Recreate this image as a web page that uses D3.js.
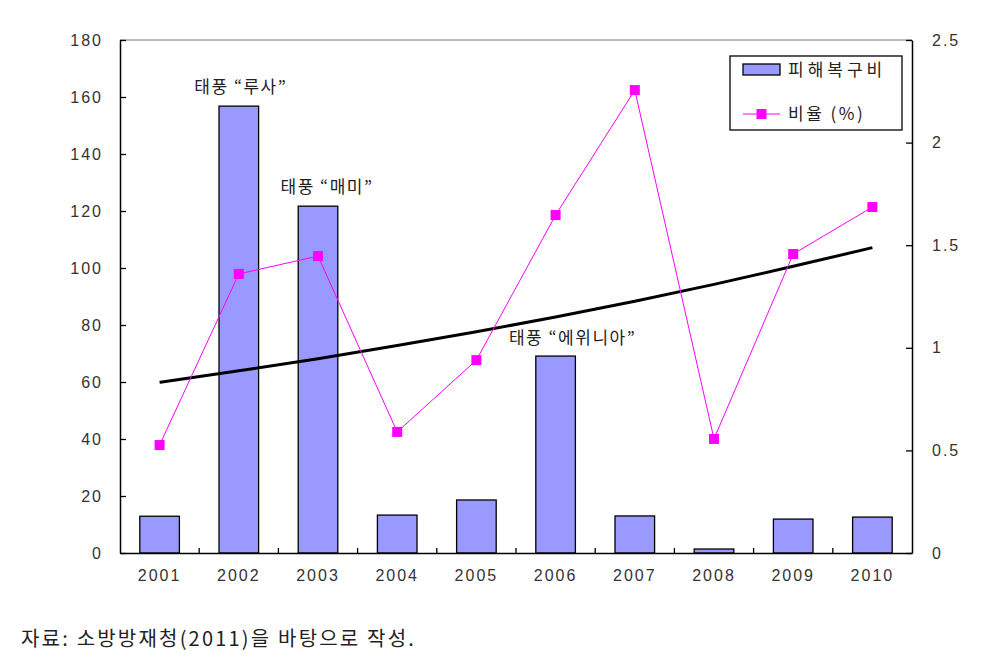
<!DOCTYPE html>
<html>
<head>
<meta charset="utf-8">
<script src="https://cdn.jsdelivr.net/npm/d3@7"></script>
<style>
  body { margin: 0; background: #fff; }
  text { font-family: "Noto Sans CJK KR", "DejaVu Sans", sans-serif; fill: #222; }
  .tick text { font-family: "Liberation Sans", Arial, sans-serif; font-size: 16px; fill: #333; letter-spacing: 2px; }
</style>
</head>
<body>
<div id="chart"></div>
<script>
// data
var years = ["2001", "2002", "2003", "2004", "2005", "2006", "2007", "2008", "2009", "2010"];
var cost = [12.9, 156.8, 121.7, 13.3, 18.6, 69.1, 13.0, 1.4, 11.9, 12.6];
var ratio = [0.526, 1.36, 1.447, 0.59, 0.94, 1.647, 2.256, 0.556, 1.457, 1.686];
// trend curve (right axis), read at each year
var trend = [0.832, 0.888, 0.947, 1.011, 1.078, 1.150, 1.227, 1.309, 1.397, 1.488];
var leftTicks = [0, 20, 40, 60, 80, 100, 120, 140, 160, 180];
var rightTicks = [0, 0.5, 1, 1.5, 2, 2.5];
var notes = [
    {year: "2002", label: "태풍 “루사”", dx: 2, dy: -13},
    {year: "2003", label: "태풍 “매미”", dx: 9, dy: -13},
    {year: "2006", label: "태풍 “에위니아”", dx: 17, dy: -12}
];

var margin = {top: 40, left: 120, right: 94, bottom: 109};
var W = 1006, H = 662;
var width = W - margin.left - margin.right;
var height = H - margin.top - margin.bottom;

var svg = d3.select("#chart").append("svg")
    .attr("width", W)
    .attr("height", H);

var g = svg.append("g")
    .attr("transform", "translate(" + margin.left + "," + margin.top + ")");

var x = d3.scaleBand().domain(years).range([0, width]).paddingInner(0);
var yL = d3.scaleLinear().domain([0, 180]).range([height, 0]);
var yR = d3.scaleLinear().domain([0, 2.5]).range([height, 0]);

// frame: top line
g.append("line")
    .attr("x1", 0).attr("x2", width)
    .attr("y1", 0).attr("y2", 0)
    .attr("stroke", "#777").attr("stroke-width", 1);

// bars
var bw = x.bandwidth() * 0.5;
g.selectAll("rect.bar")
    .data(years)
    .enter()
    .append("rect")
    .attr("class", "bar")
    .attr("x", function(d) { return x(d) + (x.bandwidth() - bw) / 2; })
    .attr("y", function(d, i) { return yL(cost[i]); })
    .attr("width", bw)
    .attr("height", function(d, i) { return height - yL(cost[i]); })
    .attr("fill", "#9999FF")
    .attr("stroke", "#000")
    .attr("stroke-width", 1.3);

// axes
var axL = g.append("g")
    .call(d3.axisLeft(yL).tickValues(leftTicks).tickSizeInner(-6).tickSizeOuter(0).tickPadding(17));
var axR = g.append("g")
    .attr("transform", "translate(" + width + ",0)")
    .call(d3.axisRight(yR).tickValues(rightTicks).tickSizeInner(-6).tickSizeOuter(0).tickPadding(20)
        .tickFormat(function(d) { return String(d); }));
var axB = g.append("g")
    .attr("transform", "translate(0," + height + ")")
    .call(d3.axisBottom(x).tickSize(0).tickPadding(17));

[axL, axR, axB].forEach(function(a) {
    a.select(".domain").attr("stroke", "#000").attr("stroke-width", 1.5);
    a.selectAll(".tick line").attr("stroke", "#000").attr("stroke-width", 1.3);
});

// small ticks between categories on the x axis
g.selectAll("line.xsep")
    .data(years.slice(1))
    .enter()
    .append("line")
    .attr("class", "xsep")
    .attr("x1", function(d) { return x(d); })
    .attr("x2", function(d) { return x(d); })
    .attr("y1", height)
    .attr("y2", height - 5)
    .attr("stroke", "#000")
    .attr("stroke-width", 1.3);

var cx = function(d) { return x(d) + x.bandwidth() / 2; };

// trend curve
var trendLine = d3.line()
    .curve(d3.curveNatural)
    .x(function(d) { return cx(d); })
    .y(function(d, i) { return yR(trend[i]); });

g.append("path")
    .datum(years)
    .attr("d", trendLine)
    .attr("fill", "none")
    .attr("stroke", "#000")
    .attr("stroke-width", 3);

// ratio line
var line = d3.line()
    .x(function(d) { return cx(d); })
    .y(function(d, i) { return yR(ratio[i]); });

g.append("path")
    .datum(years)
    .attr("d", line)
    .attr("fill", "none")
    .attr("stroke", "#FF00FF")
    .attr("stroke-width", 1);

g.selectAll("rect.mark")
    .data(years)
    .enter()
    .append("rect")
    .attr("class", "mark")
    .attr("x", function(d) { return cx(d) - 5; })
    .attr("y", function(d, i) { return yR(ratio[i]) - 5; })
    .attr("width", 10)
    .attr("height", 10)
    .attr("fill", "#FF00FF");

// typhoon notes
g.selectAll("text.note")
    .data(notes)
    .enter()
    .append("text")
    .attr("class", "note")
    .attr("x", function(d) { return cx(d.year) + d.dx; })
    .attr("y", function(d) { return yL(cost[years.indexOf(d.year)]) + d.dy; })
    .attr("text-anchor", "middle")
    .style("font-size", "17px")
    .style("letter-spacing", "1.5px")
    .text(function(d) { return d.label; });

// legend
var lg = svg.append("g").attr("transform", "translate(730,56)");
lg.append("rect")
    .attr("width", 172).attr("height", 74)
    .attr("fill", "#fff").attr("stroke", "#000").attr("stroke-width", 1.3);
lg.append("rect")
    .attr("x", 13).attr("y", 8).attr("width", 37).attr("height", 11)
    .attr("fill", "#9999FF").attr("stroke", "#000").attr("stroke-width", 1.3);
lg.append("text")
    .attr("x", 58).attr("y", 20)
    .style("font-size", "17px").style("letter-spacing", "4px")
    .text("피해복구비");
lg.append("line")
    .attr("x1", 13).attr("x2", 50).attr("y1", 58).attr("y2", 58)
    .attr("stroke", "#FF00FF").attr("stroke-width", 1);
lg.append("rect")
    .attr("x", 26.5).attr("y", 53).attr("width", 10).attr("height", 10)
    .attr("fill", "#FF00FF");
lg.append("text")
    .attr("x", 58).attr("y", 64)
    .style("font-size", "17px").style("letter-spacing", "2.5px")
    .text("비율 (%)");

// source note
svg.append("text")
    .attr("x", 21).attr("y", 646)
    .style("font-size", "20px")
    .style("letter-spacing", "2.2px")
    .text("자료: 소방방재청(2011)을 바탕으로 작성.");
</script>
</body>
</html>
